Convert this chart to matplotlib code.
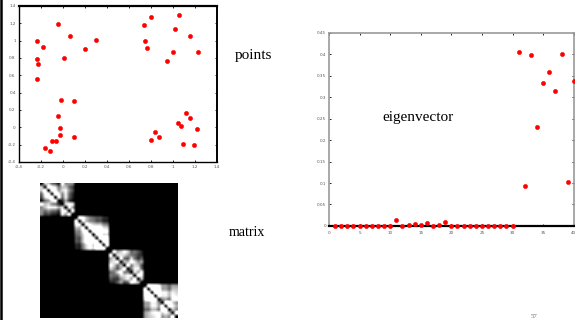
import numpy as np
import matplotlib
matplotlib.use('Agg')
import matplotlib.pyplot as plt
from matplotlib.lines import Line2D

# points (4 groups of 10)
px = [-0.045, -0.235, -0.18, -0.23, -0.22, -0.23, 0.07, 0.01, 0.20, 0.30,
      -0.01, 0.10, -0.04, -0.02, -0.025, 0.10, -0.10, -0.06, -0.16, -0.11,
      0.735, 0.80, 1.06, 1.02, 0.745, 0.77, 1.16, 1.0, 0.945, 1.23,
      1.12, 1.16, 1.05, 1.075, 1.22, 0.835, 0.875, 0.80, 1.09, 1.19]
py = [1.19, 0.99, 0.93, 0.79, 0.73, 0.56, 1.05, 0.80, 0.90, 1.01,
      0.31, 0.30, 0.135, -0.01, -0.085, -0.115, -0.16, -0.16, -0.24, -0.27,
      1.185, 1.27, 1.30, 1.135, 0.99, 0.91, 1.05, 0.87, 0.76, 0.87,
      0.16, 0.11, 0.046, 0.02, -0.023, -0.054, -0.11, -0.15, -0.19, -0.20]
group = [0] * 10 + [1] * 10 + [2] * 10 + [3] * 10

# eigenvector entries 1..40
ev_idx = np.arange(1, 41)
ev_val = [0, 0, 0, 0, 0, 0, 0, 0, 0, 0,
          0.014, 0, 0.001, 0.005, 0.003, 0.006, 0, 0.002, 0.008, 0,
          0, 0, 0, 0, 0, 0, 0, 0, 0, 0,
          0.4065, 0.0935, 0.398, 0.231, 0.333, 0.359, 0.314, 0.401, 0.103, 0.337]

sigma_in = 0.3
sigma_out = 0.12

fig = plt.figure(figsize=(5.75, 3.2), dpi=100)
fig.patch.set_facecolor('white')

tick_kw = dict(direction='in', length=1.5, width=0.6, labelsize=3, pad=2,
               labelcolor='#555555', top=True, right=True)

# scatter of points
ax1 = fig.add_axes([0.0322, 0.494, 0.345, 0.4875])
ax1.plot(px, py, 'o', color='red', markersize=3.0, markeredgewidth=0.4)
ax1.set_xlim(-0.4, 1.4)
ax1.set_ylim(-0.4, 1.4)
ax1.set_xticks(np.arange(-0.4, 1.41, 0.2))
ax1.set_yticks(np.arange(-0.4, 1.41, 0.2))
ax1.set_xticklabels(['-0.4', '-0.2', '0', '0.2', '0.4', '0.6', '0.8', '1', '1.2', '1.4'])
ax1.set_yticklabels(['-0.4', '-0.2', '0', '0.2', '0.4', '0.6', '0.8', '1', '1.2', '1.4'])
ax1.tick_params(**tick_kw)
for s in ax1.spines.values():
    s.set_linewidth(1.0)
ax1.spines['top'].set_linewidth(1.6)
ax1.spines['right'].set_linewidth(1.4)

# affinity matrix from the points
P = np.column_stack([px, py])
g = np.array(group)
d2 = ((P[:, None, :] - P[None, :, :]) ** 2).sum(-1)
same = g[:, None] == g[None, :]
A = np.where(same, np.exp(-d2 / (2 * sigma_in ** 2)),
             np.exp(-d2 / (2 * sigma_out ** 2)))
np.fill_diagonal(A, 0)
ax3 = fig.add_axes([0.0696, 0.006, 0.24, 0.422])
ax3.imshow(A, cmap='gray', vmin=0.05, vmax=0.75, aspect='auto',
           interpolation='bilinear')
ax3.set_xticks([])
ax3.set_yticks([])
for s in ax3.spines.values():
    s.set_visible(False)

# eigenvector
ax2 = fig.add_axes([0.572, 0.294, 0.426, 0.603])
ax2.plot(ev_idx, ev_val, 'o', color='red', markersize=3.0, markeredgewidth=0.4,
         clip_on=False, zorder=5)
ax2.set_xlim(0, 40)
ax2.set_ylim(0, 0.45)
ax2.set_xticks(np.arange(0, 41, 5))
ax2.set_yticks(np.arange(0, 0.451, 0.05))
ax2.set_yticklabels(['0', '0.05', '0.1', '0.15', '0.2', '0.25', '0.3', '0.35', '0.4', '0.45'])
ax2.tick_params(**tick_kw)
ax2.tick_params(axis='x', pad=3.5)
for s in ax2.spines.values():
    s.set_color('#999999')
    s.set_linewidth(1.2)
ax2.spines['bottom'].set_color('black')
ax2.spines['bottom'].set_linewidth(1.6)

# slide labels
fig.text(253 / 575, 1 - 55 / 320, 'points', ha='center', va='center',
         family='Liberation Serif', fontsize=11, color='black')
fig.text(418 / 575, 1 - 118 / 320, 'eigenvector', ha='center', va='center',
         family='Liberation Serif', fontsize=11, color='black')
fig.text(247 / 575, 1 - 232 / 320, 'matrix', ha='center', va='center',
         family='Liberation Serif', fontsize=10, color='black')
fig.text(534 / 575, 1 - 316 / 320, '57', ha='center', va='center',
         family='Liberation Serif', fontsize=5, color='#777777')

# slide border on the left
fig.add_artist(Line2D([0.002, 0.002], [0, 1], color='black', linewidth=1.8,
                      transform=fig.transFigure))

fig.savefig('out.png', dpi=100)
